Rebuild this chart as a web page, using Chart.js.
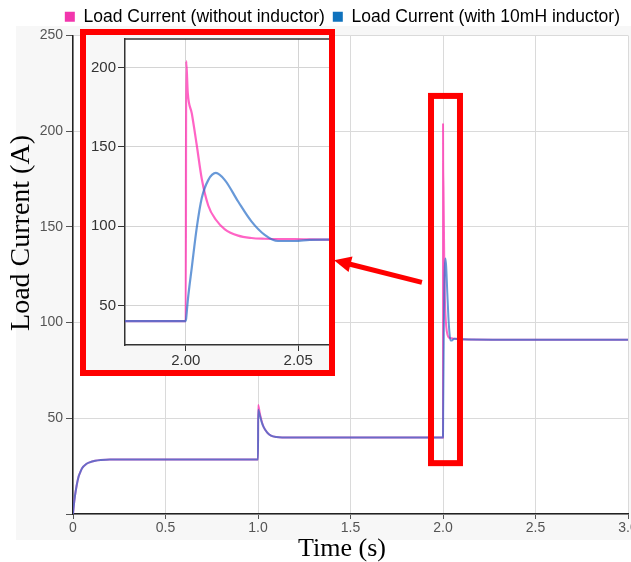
<!DOCTYPE html>
<html>
<head>
<meta charset="utf-8">
<title>Load Current</title>
<script src="https://cdn.jsdelivr.net/npm/chart.js@4.4.0/dist/chart.umd.min.js"></script>
<style>
  html, body { margin: 0; padding: 0; background: #fff; overflow: hidden; }
  #wrap { position: relative; width: 631px; height: 562px; overflow: hidden; }
  #main { position: absolute; left: 0; top: 0; }
  #inset { position: absolute; left: 80px; top: 29px; width: 255px; height: 347px; box-sizing: border-box;
           border: 6px solid #ff0000; background: #f7f7f7; overflow: hidden; }
  #zoom { position: absolute; left: 0; top: 0; }
</style>
</head>
<body>
<div id="wrap">
  <canvas id="main" width="631" height="562"></canvas>
  <div id="inset"><canvas id="zoom" width="243" height="335"></canvas></div>
</div>
<script>
// series names for the legend
const seriesNames = ['Load Current (without inductor)', 'Load Current (with 10mH inductor)'];
const xTitle = 'Time (s)';
const yTitle = 'Load Current (A)';

// time samples (s), shared by both series
const timeS = [
  0, 0.005, 0.01, 0.02, 0.03, 0.04, 0.05, 0.07, 0.09, 0.12, 0.15, 0.2, 0.4, 0.7, 0.999,
  1.0, 1.001, 1.01, 1.02, 1.03, 1.05, 1.07, 1.1, 1.13, 1.5, 1.999,
  2.0, 2.0002, 2.0009, 2.0027, 2.0049, 2.0071, 2.01, 2.0134, 2.0174, 2.0233,
  2.0292, 2.0351, 2.041, 2.0484, 2.055, 2.062, 2.1, 2.5, 3.0
];

// load current (A)
const currentNoInductor = [
  0, 5, 9, 15, 19.5, 22, 24, 26, 27, 27.8, 28.2, 28.5, 28.5, 28.5, 28.5,
  28.5, 57, 52.5, 48.5, 45.5, 42.5, 41, 40.2, 40, 40, 40,
  40, 204, 184, 171, 151, 130, 113, 104, 98, 94,
  92.5, 92, 91.8, 91.8, 91.6, 91.5, 91.3, 91, 91
];
const currentWithInductor = [
  0, 5, 9, 15, 19.5, 22, 24, 26, 27, 27.8, 28.2, 28.5, 28.5, 28.5, 28.5,
  28.5, 54.5, 51.5, 48, 45.5, 42.5, 41, 40.2, 40, 40, 40,
  40, 42, 53, 74, 99, 117.5, 129, 133.5, 129, 115.5,
  103, 94.5, 90.6, 90.6, 91.3, 91.5, 91.3, 91, 91
];

// axis ranges
const mainT = [0, 3];
const mainI = [0, 250];
const zoomT = [1.973, 2.0637];
const zoomI = [25, 218];

// highlight box and arrow, in data units of the main chart
const boxT = [1.919, 2.108];
const boxI = [25, 220];
const arrowFrom = [1.886, 121];
const arrowTo = [1.411, 132.6];

const PINK_LINE = 'rgba(255, 40, 175, 0.72)';
const BLUE_LINE = 'rgba(40, 110, 200, 0.7)';
const keyColors = ['#f236ad', '#0f72bd'];
const SERIF = '"Liberation Serif", "Times New Roman", serif';

Chart.defaults.font.family = '"Liberation Sans", Arial, sans-serif';

function points(vals) {
  return timeS.map((t, i) => ({ x: t, y: vals[i] }));
}

function makeDatasets(w) {
  return [
    { label: seriesNames[0], data: points(currentNoInductor), borderColor: PINK_LINE, borderWidth: w,
      pointRadius: 0, cubicInterpolationMode: 'monotone', order: 1 },
    { label: seriesNames[1], data: points(currentWithInductor), borderColor: BLUE_LINE, borderWidth: w,
      pointRadius: 0, cubicInterpolationMode: 'monotone', order: 0 }
  ];
}

// grey panel behind the axes, white plot area
const panelBg = {
  id: 'panelBg',
  beforeDraw(chart) {
    const { ctx, chartArea: a } = chart;
    ctx.save();
    ctx.fillStyle = '#fff';
    ctx.fillRect(0, 0, chart.width, chart.height);
    ctx.fillStyle = '#f7f7f7';
    ctx.fillRect(16, 26, chart.width - 16, 540 - 26);
    ctx.fillStyle = '#fff';
    ctx.fillRect(a.left, a.top, a.right - a.left, a.bottom - a.top);
    ctx.restore();
  }
};

// axis titles (placed a little off-centre like the original)
const axisTitles = {
  id: 'axisTitles',
  afterDraw(chart) {
    const { ctx } = chart;
    ctx.save();
    ctx.fillStyle = '#000';
    ctx.textAlign = 'center';
    ctx.textBaseline = 'middle';
    ctx.font = '26px ' + SERIF;
    ctx.fillText(xTitle, 342, 549);
    ctx.translate(22, 233);
    ctx.rotate(-Math.PI / 2);
    ctx.font = '28px ' + SERIF;
    ctx.fillText(yTitle, 0, 0);
    ctx.restore();
  }
};

// red box round the spike and the arrow to the inset
const callout = {
  id: 'callout',
  afterDraw(chart) {
    const { ctx, scales: { x, y } } = chart;
    ctx.save();
    ctx.strokeStyle = '#ff0000';
    ctx.fillStyle = '#ff0000';
    ctx.lineWidth = 6;
    const l = x.getPixelForValue(boxT[0]), r = x.getPixelForValue(boxT[1]);
    const t = y.getPixelForValue(boxI[1]), b = y.getPixelForValue(boxI[0]);
    ctx.strokeRect(l + 3, t + 3, r - l - 6, b - t - 6);

    const x0 = x.getPixelForValue(arrowFrom[0]), y0 = y.getPixelForValue(arrowFrom[1]);
    const x1 = x.getPixelForValue(arrowTo[0]), y1 = y.getPixelForValue(arrowTo[1]);
    const ang = Math.atan2(y1 - y0, x1 - x0);
    const head = 17, half = 8;
    ctx.lineWidth = 5;
    ctx.beginPath();
    ctx.moveTo(x0, y0);
    ctx.lineTo(x1 - head * 0.8 * Math.cos(ang), y1 - head * 0.8 * Math.sin(ang));
    ctx.stroke();
    ctx.beginPath();
    ctx.moveTo(x1, y1);
    ctx.lineTo(x1 - head * Math.cos(ang) + half * Math.sin(ang), y1 - head * Math.sin(ang) - half * Math.cos(ang));
    ctx.lineTo(x1 - head * Math.cos(ang) - half * Math.sin(ang), y1 - head * Math.sin(ang) + half * Math.cos(ang));
    ctx.closePath();
    ctx.fill();
    ctx.restore();
  }
};

new Chart(document.getElementById('main'), {
  type: 'line',
  data: { datasets: makeDatasets(2) },
  options: {
    responsive: false,
    animation: false,
    events: [],
    layout: { padding: { left: 0, right: 3, top: 0, bottom: 0 } },
    plugins: {
      tooltip: { enabled: false },
      legend: {
        position: 'top',
        align: 'end',
        labels: {
          boxWidth: 10,
          boxHeight: 10,
          padding: 8,
          color: '#444',
          font: { size: 17.5 },
          generateLabels(chart) {
            return chart.data.datasets.map((d, i) => ({
              text: d.label, fillStyle: keyColors[i], strokeStyle: keyColors[i],
              lineWidth: 0, datasetIndex: i, hidden: false
            }));
          }
        }
      }
    },
    scales: {
      x: {
        type: 'linear',
        min: mainT[0],
        max: mainT[1],
        ticks: {
          stepSize: 0.5, color: '#555', font: { size: 14 }, padding: 1, maxRotation: 0,
          callback: v => v === 0 ? '0' : v.toFixed(1)
        },
        grid: { color: '#dadada', tickColor: '#555', tickLength: 5 },
        border: { color: '#222', width: 1.5 },
        afterFit(s) { s.paddingRight = 0; s.paddingLeft = 0; s.height = 48; }
      },
      y: {
        min: mainI[0],
        max: mainI[1],
        ticks: {
          stepSize: 50, color: '#555', font: { size: 14 }, padding: 3,
          callback: v => v === 0 ? '' : v
        },
        grid: { color: '#dadada', tickColor: '#555', tickLength: 7 },
        border: { color: '#222', width: 1.5 },
        afterFit(s) { s.width = 73; }
      }
    }
  },
  plugins: [panelBg, callout, axisTitles]
});

// white plot area and dark top edge for the zoomed view
const insetFrame = {
  id: 'insetFrame',
  beforeDraw(chart) {
    const { ctx, chartArea: a } = chart;
    ctx.save();
    ctx.fillStyle = '#f7f7f7';
    ctx.fillRect(0, 0, chart.width, chart.height);
    ctx.fillStyle = '#fff';
    ctx.fillRect(a.left, a.top, a.right - a.left, a.bottom - a.top);
    ctx.restore();
  },
  afterDraw(chart) {
    const { ctx, chartArea: a } = chart;
    ctx.save();
    ctx.strokeStyle = '#333';
    ctx.lineWidth = 1.5;
    ctx.beginPath();
    ctx.moveTo(a.left, a.top);
    ctx.lineTo(a.right, a.top);
    ctx.stroke();
    ctx.restore();
  }
};

new Chart(document.getElementById('zoom'), {
  type: 'line',
  data: { datasets: makeDatasets(2.2) },
  options: {
    responsive: false,
    animation: false,
    events: [],
    layout: { padding: { left: 3, right: 0, top: 4, bottom: 0 } },
    plugins: { legend: { display: false }, tooltip: { enabled: false } },
    scales: {
      x: {
        type: 'linear',
        min: zoomT[0],
        max: zoomT[1],
        ticks: {
          stepSize: 0.05, includeBounds: false, color: '#333', font: { size: 15, lineHeight: 1 },
          padding: 2, maxRotation: 0, callback: v => v.toFixed(2)
        },
        grid: { color: '#d4d4d4', tickColor: '#333', tickLength: 6 },
        border: { color: '#333', width: 1.5 },
        afterFit(s) { s.paddingRight = 0; s.paddingLeft = 0; }
      },
      y: {
        min: zoomI[0],
        max: zoomI[1],
        ticks: { stepSize: 50, includeBounds: false, color: '#333', font: { size: 15 }, padding: 2 },
        grid: { color: '#d4d4d4', tickColor: '#333', tickLength: 7 },
        border: { color: '#333', width: 1.5 },
        afterFit(s) { s.paddingTop = 0; s.paddingBottom = 0; }
      }
    }
  },
  plugins: [insetFrame]
});
</script>
</body>
</html>
